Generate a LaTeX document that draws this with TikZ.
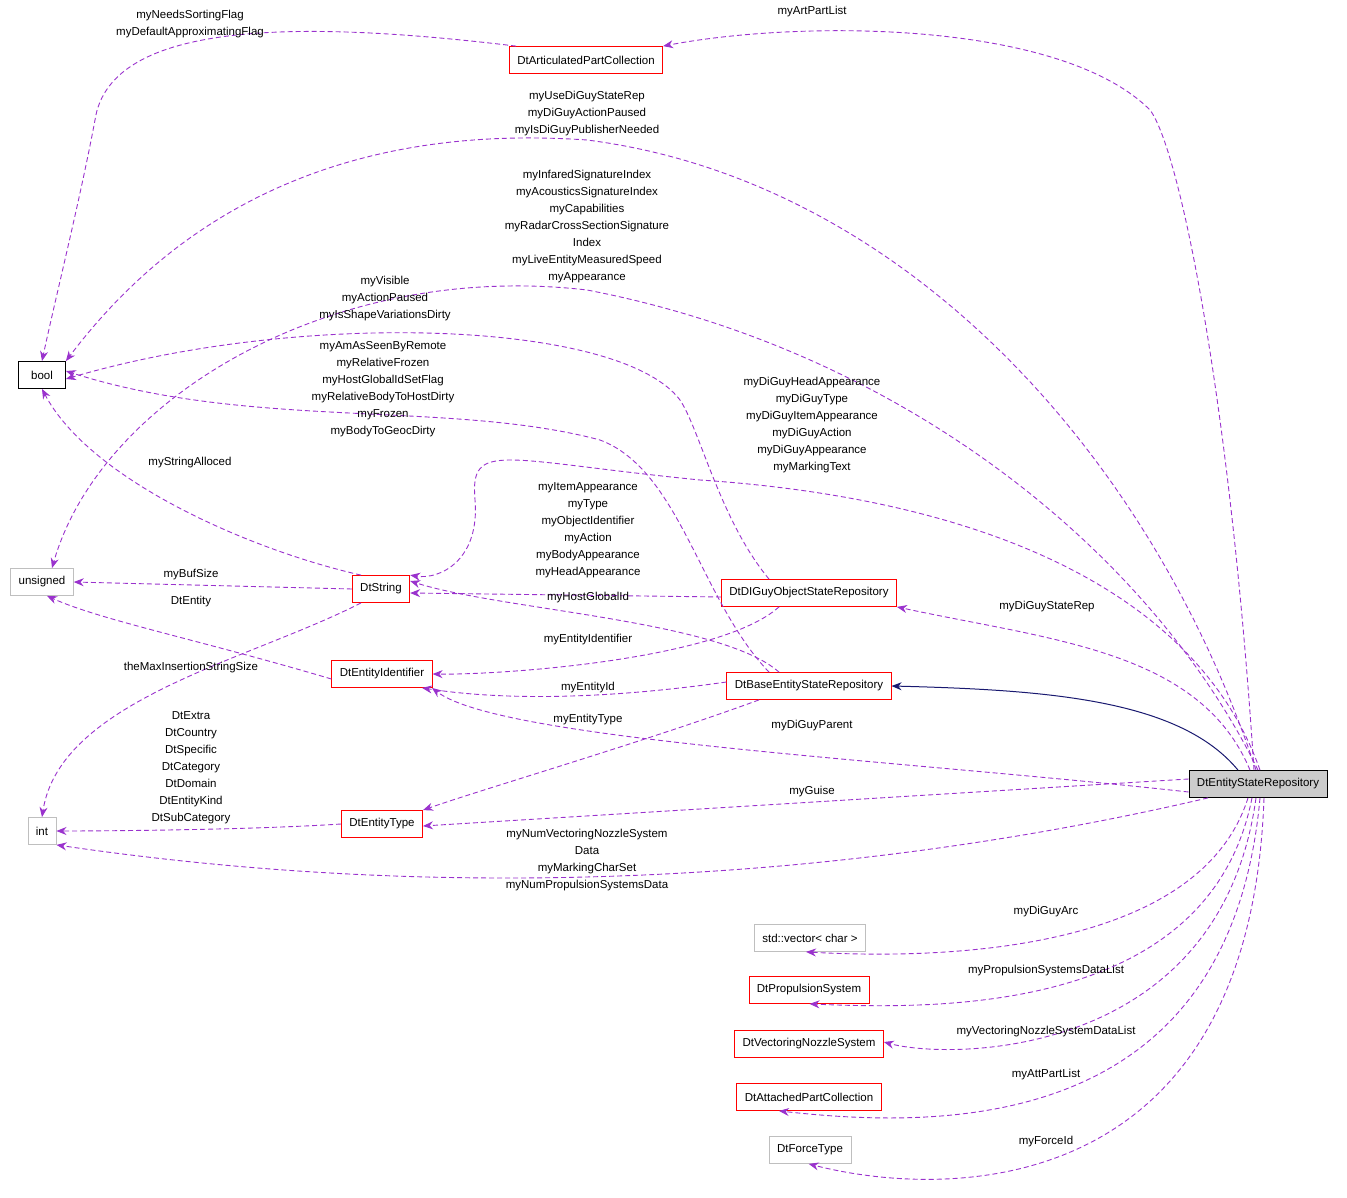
\documentclass[tikz,border=0pt]{standalone}
\usepackage{fontspec}
\setmainfont{Liberation Sans}
\usetikzlibrary{arrows.meta}
\definecolor{pur}{HTML}{9A32CD}
\definecolor{nav}{HTML}{191970}
\definecolor{gry}{HTML}{BFBFBF}
\begin{document}
\begin{tikzpicture}[x=1pt,y=-1pt,
  every node/.style={font=\fontsize{11.5}{17}\selectfont, inner sep=0pt},
  box/.style={draw, minimum height=27pt, inner xsep=8pt, line width=0.8pt},
  rbox/.style={box, draw=red},
  gbox/.style={box, draw=gry},
  dep/.style={draw=pur, dashed, dash pattern=on 5pt off 3pt, line width=0.9pt, -{Stealth[length=10pt,width=8pt]}},
  lab/.style={align=center}]
\useasboundingbox (0,0) rectangle (1347,1198);
\node[box, fill=gry!80] (esr) at (1258,784) {DtEntityStateRepository};
\node[rbox] (apc) at (586,60) {DtArticulatedPartCollection};
\node[box, minimum width=47pt] (bool) at (42,375) {bool};
\node[gbox] (uns) at (42,582) {unsigned};
\node[gbox] (int) at (42,831) {int};
\node[rbox] (str) at (381,589) {DtString};
\node[rbox] (dig) at (809,593) {DtDIGuyObjectStateRepository};
\node[rbox] (eid) at (382,674) {DtEntityIdentifier};
\node[rbox] (base) at (809,686) {DtBaseEntityStateRepository};
\node[rbox] (etype) at (382,824) {DtEntityType};
\node[gbox] (vec) at (810,938) {std::vector< char >};
\node[rbox] (prop) at (809,990) {DtPropulsionSystem};
\node[rbox] (vns) at (809,1044) {DtVectoringNozzleSystem};
\node[rbox] (att) at (809,1097) {DtAttachedPartCollection};
\node[gbox] (force) at (810,1150) {DtForceType};

% edges
\draw[dep] ([xshift=-4pt]esr.north) .. controls (1230,400) and (1180,150) .. (1150,110) .. controls (1060,20) and (800,20) .. (apc.north east);
\node[lab] at (812,12) {myArtPartList};
\draw[dep] ([xshift=-70pt]apc.north) .. controls (300,20) and (110,20) .. (95,120) .. controls (80,200) and (55,300) .. (bool.north);
\node[lab] at (190,24) {myNeedsSortingFlag\\myDefaultApproximatingFlag};
\draw[dep] ([xshift=-2pt]esr.north) .. controls (1150,450) and (900,180) .. (587,140) .. controls (300,120) and (150,250) .. (bool.north east);
\node[lab] at (587,114) {myUseDiGuyStateRep\\myDiGuyActionPaused\\myIsDiGuyPublisherNeeded};
\draw[dep] ([xshift=0pt]esr.north) .. controls (1150,550) and (900,350) .. (587,290) .. controls (330,260) and (100,400) .. ([xshift=10pt]uns.north);
\node[lab] at (587,227) {myInfaredSignatureIndex\\myAcousticsSignatureIndex\\myCapabilities\\myRadarCrossSectionSignature\\Index\\myLiveEntityMeasuredSpeed\\myAppearance};
\draw[dep] ([xshift=-40pt]dig.north) .. controls (720,520) and (700,430) .. (680,400) .. controls (620,320) and (300,310) .. ([yshift=-4pt]bool.east);
\node[lab] at (385,299) {myVisible\\myActionPaused\\myIsShapeVariationsDirty};
\draw[dep] ([xshift=-40pt]base.north) .. controls (700,600) and (680,470) .. (600,440) .. controls (450,400) and (250,430) .. ([yshift=4pt]bool.east);
\node[lab] at (383,389) {myAmAsSeenByRemote\\myRelativeFrozen\\myHostGlobalIdSetFlag\\myRelativeBodyToHostDirty\\myFrozen\\myBodyToGeocDirty};
\draw[dep] ([xshift=2pt]esr.north) .. controls (1200,600) and (1000,500) .. (700,480) .. controls (500,460) and (470,440) .. (475,500) .. controls (480,560) and (440,580) .. (str.north east);
\node[lab] at (812,425) {myDiGuyHeadAppearance\\myDiGuyType\\myDiGuyItemAppearance\\myDiGuyAction\\myDiGuyAppearance\\myMarkingText};
\draw[dep] ([xshift=-20pt]str.north) .. controls (250,550) and (90,480) .. (bool.south);
\node[lab] at (190,463) {myStringAlloced};
\draw[dep] (str.west) -- (uns.east);
\node[lab] at (191,575) {myBufSize};
\draw[dep] ([yshift=-4pt]dig.west) -- ([yshift=-4pt]str.east);
\node[lab] at (588,530) {myItemAppearance\\myType\\myObjectIdentifier\\myAction\\myBodyAppearance\\myHeadAppearance};
\draw[dep] ([xshift=-30pt]base.north) .. controls (720,620) and (500,610) .. ([yshift=8pt]str.east);
\node[lab] at (588,598) {myHostGlobalId};
\draw[dep] ([yshift=-5pt]eid.west) .. controls (200,640) and (100,620) .. ([xshift=5pt]uns.south);
\node[lab] at (191,602) {DtEntity};
\draw[dep] ([xshift=-20pt]str.south) .. controls (250,660) and (60,700) .. (int.north);
\node[lab] at (191,668) {theMaxInsertionStringSize};
\draw[dep] ([xshift=-30pt]dig.south) .. controls (720,660) and (500,675) .. (eid.east);
\node[lab] at (588,640) {myEntityIdentifier};
\draw[dep] ([yshift=4pt]base.west) .. controls (600,700) and (500,700) .. ([xshift=40pt]eid.south);
\node[lab] at (588,688) {myEntityId};
\draw[dep] ([yshift=-8pt]esr.west) .. controls (900,760) and (500,740) .. ([xshift=50pt]eid.south);
\node[lab] at (812,726) {myDiGuyParent};
\draw[dep] ([xshift=-50pt]base.south) .. controls (650,740) and (480,790) .. (etype.north east);
\node[lab] at (588,720) {myEntityType};
\draw[draw=nav, line width=1pt, -{Stealth[length=10pt,width=8pt]}] ([xshift=-20pt]esr.north) .. controls (1180,700) and (1050,690) .. (base.east);
\draw[dep] ([xshift=-8pt]esr.north) .. controls (1200,650) and (1050,640) .. (dig.south east);
\node[lab] at (1047,607) {myDiGuyStateRep};
\draw[dep] (etype.west) .. controls (250,830) and (100,831) .. (int.east);
\node[lab] at (191,768) {DtExtra\\DtCountry\\DtSpecific\\DtCategory\\DtDomain\\DtEntityKind\\DtSubCategory};
\draw[dep] ([yshift=5pt]esr.west) -- ([yshift=-2pt]etype.east);
\node[lab] at (812,792) {myGuise};
\draw[dep] ([xshift=-50pt]esr.south) .. controls (900,870) and (500,910) .. (int.south east);
\node[lab] at (587,860) {myNumVectoringNozzleSystem\\Data\\myMarkingCharSet\\myNumPropulsionSystemsData};
\draw[dep] ([xshift=-10pt]esr.south) .. controls (1200,950) and (950,960) .. ([xshift=-60pt]vec.south east);
\node[lab] at (1046,912) {myDiGuyArc};
\draw[dep] ([xshift=-6pt]esr.south) .. controls (1210,1010) and (950,1010) .. ([xshift=-60pt]prop.south east);
\node[lab] at (1046,971) {myPropulsionSystemsDataList};
\draw[dep] ([xshift=-2pt]esr.south) .. controls (1220,1060) and (950,1060) .. ([yshift=2pt]vns.east);
\node[lab] at (1046,1032) {myVectoringNozzleSystemDataList};
\draw[dep] ([xshift=2pt]esr.south) .. controls (1230,1130) and (950,1130) .. ([xshift=-30pt]att.south);
\node[lab] at (1046,1075) {myAttPartList};
\draw[dep] ([xshift=6pt]esr.south) .. controls (1250,1200) and (950,1200) .. ([xshift=40pt]force.south west);
\node[lab] at (1046,1142) {myForceId};
\end{tikzpicture}
\end{document}
